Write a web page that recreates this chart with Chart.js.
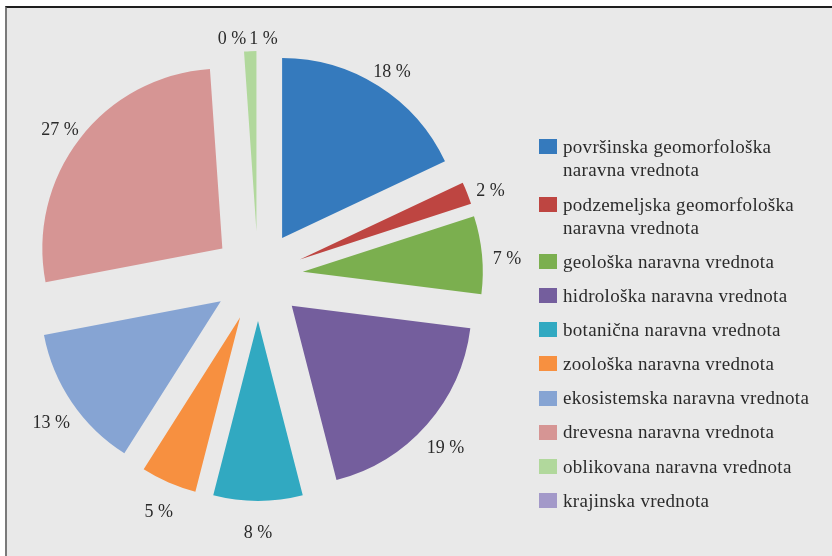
<!DOCTYPE html>
<html>
<head>
<meta charset="utf-8">
<script src="https://cdn.jsdelivr.net/npm/chart.js@4.4.1/dist/chart.umd.min.js"></script>
<style>
  body { margin: 0; background: #fff; width: 832px; height: 556px; overflow: hidden; position: relative; }
  .frame {
    position: absolute; left: 5px; top: 6px; right: 0; bottom: 0;
    background: #e9e9e9;
    border-top: 2px solid #1e1e1e;
    border-left: 2px solid #7a7a7a;
  }
  #myChart { position: absolute; left: 0; top: 0; }
  .legend {
    position: absolute; left: 539px; top: 135px; width: 285px;
    font-family: "Liberation Serif", serif; font-size: 19px; letter-spacing: 0.3px;
    color: #2b2b2b;
  }
  .legend-item { display: flex; align-items: flex-start; margin-bottom: 10.7px; }
  .legend-box { width: 18px; height: 15px; margin-top: 4.2px; margin-right: 6px; flex: none; }
  .legend-text { line-height: 23.4px; width: 258px; }
</style>
</head>
<body>
<div class="frame"></div>
<canvas id="myChart" width="832" height="556"></canvas>
<div class="legend" id="legend"></div>

<script>
const categories = [
  "površinska geomorfološka naravna vrednota",
  "podzemeljska geomorfološka naravna vrednota",
  "geološka naravna vrednota",
  "hidrološka naravna vrednota",
  "botanična naravna vrednota",
  "zoološka naravna vrednota",
  "ekosistemska naravna vrednota",
  "drevesna naravna vrednota",
  "oblikovana naravna vrednota",
  "krajinska vrednota",
];
const values = [18, 2, 7, 19, 8, 5, 13, 26.9, 1.1, 0];
const colors = [
  "#357abd", "#be4541", "#7baf4f", "#745e9d", "#31a9c1",
  "#f79040", "#86a4d3", "#d69594", "#b1d89c", "#a399c9",
];

const EXPLODE = 45; // px every slice is pulled out from the centre

// move each arc's centre out along its middle angle (same gap for every slice)
const explode = {
  id: "explode",
  afterDatasetUpdate(chart, args) {
    chart.getDatasetMeta(args.index).data.forEach((el) => {
      let mid = (el.startAngle + el.endAngle) / 2;
      el.x += Math.cos(mid) * EXPLODE;
      el.y += Math.sin(mid) * EXPLODE;
    });
  },
};

const pctLabels = {
  id: "pctLabels",
  afterDatasetsDraw(chart) {
    const ctx = chart.ctx;
    const arcs = chart.getDatasetMeta(0).data;
    ctx.save();
    ctx.font = "18px 'Liberation Serif', serif";
    ctx.fillStyle = "#2b2b2b";
    ctx.textAlign = "center";
    ctx.textBaseline = "middle";
    let items = [];
    arcs.forEach((el, i) => {
      let mid = (el.startAngle + el.endAngle) / 2;
      let r = el.outerRadius + 70 - EXPLODE;
      let text = Math.round(values[i]) + " %";
      items.push({
        text: text,
        x: el.x + Math.cos(mid) * r,
        y: el.y + Math.sin(mid) * r + 7,
        w: ctx.measureText(text).width,
      });
    });
    // push apart labels that sit on top of each other
    for (let i = 1; i < items.length; i++) {
      let a = items[i - 1];
      let b = items[i];
      if (Math.abs(a.x - b.x) < (a.w + b.w) / 2 && Math.abs(a.y - b.y) < 18) {
        let m = (a.x + b.x) / 2 - 6;
        b.x = m - b.w / 2 - 1.5;
        a.x = m + a.w / 2 + 1.5;
        a.y = b.y = (a.y + b.y) / 2 + 6;
      }
    }
    items.forEach((it) => ctx.fillText(it.text, it.x, it.y));
    ctx.restore();
  },
};

const myChart = new Chart(document.getElementById("myChart"), {
  type: "pie",
  data: {
    labels: categories,
    datasets: [
      {
        data: values,
        backgroundColor: colors,
        borderWidth: 0,
        radius: 180,
        hoverOffset: 0,
      },
    ],
  },
  options: {
    responsive: false,
    animation: false,
    events: [],
    layout: { padding: { left: 0, top: 0, right: 316, bottom: 4 } },
    plugins: {
      legend: { display: false },
      tooltip: { enabled: false },
    },
  },
  plugins: [explode, pctLabels],
});

// legend on the right, text wraps like in the original
let legendDiv = document.getElementById("legend");
categories.forEach((name, i) => {
  let item = document.createElement("div");
  item.className = "legend-item";
  let box = document.createElement("div");
  box.className = "legend-box";
  box.style.background = colors[i];
  let txt = document.createElement("div");
  txt.className = "legend-text";
  txt.textContent = name;
  item.appendChild(box);
  item.appendChild(txt);
  legendDiv.appendChild(item);
});
</script>
</body>
</html>
